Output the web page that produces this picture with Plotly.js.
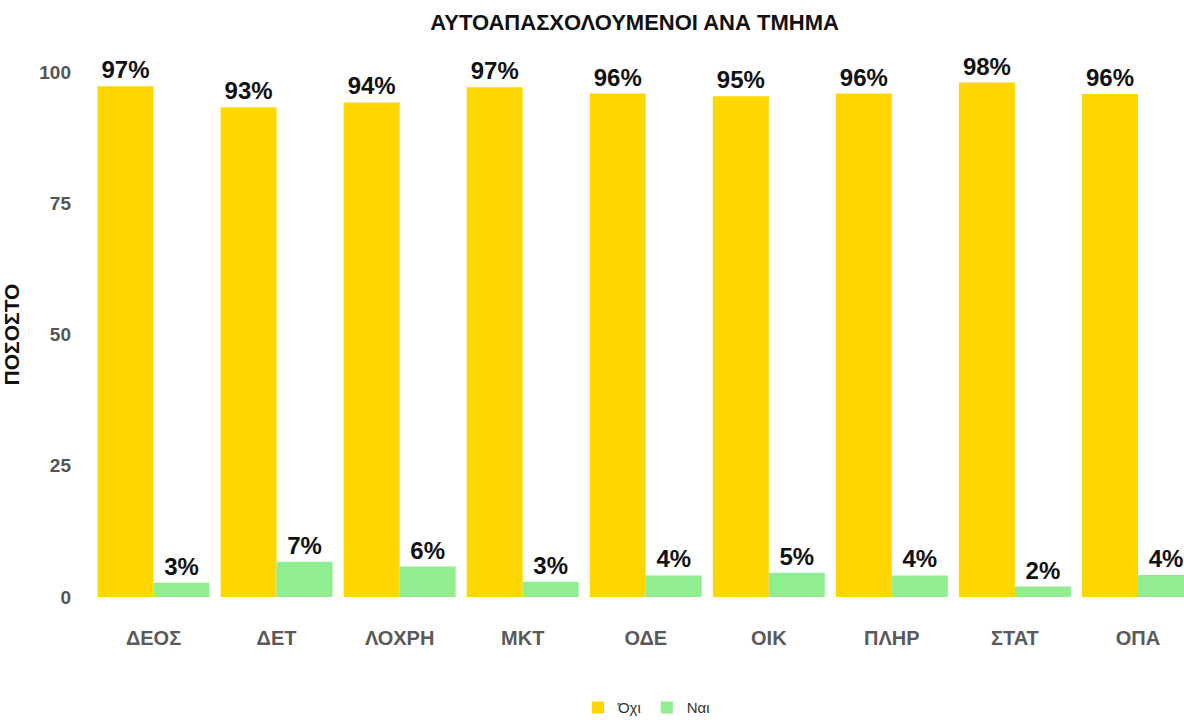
<!DOCTYPE html>
<html>
<head>
<meta charset="utf-8">
<script src="https://cdn.plot.ly/plotly-3.0.1.min.js"></script>
<style>html,body{margin:0;padding:0;background:#fff;}#chart{width:1184px;height:720px;}</style>
</head>
<body>
<div id="chart"></div>
<script>
const categories = ["ΔΕΟΣ", "ΔΕΤ", "ΛΟΧΡΗ", "ΜΚΤ", "ΟΔΕ", "ΟΙΚ", "ΠΛΗΡ", "ΣΤΑΤ", "ΟΠΑ"];
const ochi = [97.3, 93.3, 94.2, 97.1, 95.9, 95.4, 95.9, 98.0, 95.8];
const nai = [2.7, 6.7, 5.8, 2.9, 4.1, 4.6, 4.1, 2.0, 4.2];
const seriesNames = ["Όχι", "Ναι"];
const yTicks = [0, 25, 50, 75, 100];

const labelFont = {family: "Liberation Sans, Arial, sans-serif", size: 24, color: "#111", weight: 700};

const traces = [
  {type: "bar", name: seriesNames[0], x: categories, y: ochi, marker: {color: "#FFD700"},
   text: ochi.map(v => Math.round(v) + "%"), textposition: "outside", textfont: labelFont,
   cliponaxis: false, constraintext: "none", hoverinfo: "x+y"},
  {type: "bar", name: seriesNames[1], x: categories, y: nai, marker: {color: "#90EE90"},
   text: nai.map(v => Math.round(v) + "%"), textposition: "outside", textfont: labelFont,
   cliponaxis: false, constraintext: "none", hoverinfo: "x+y"}
];

const layout = {
  width: 1184, height: 720,
  paper_bgcolor: "#fff", plot_bgcolor: "#fff",
  font: {family: "Liberation Sans, Arial, sans-serif", color: "#333"},
  margin: {l: 92, r: 0, t: 72, b: 123},
  barmode: "group", bargap: 0.09, bargroupgap: 0,
  title: {text: "ΑΥΤΟΑΠΑΣΧΟΛΟΥΜΕΝΟΙ ΑΝΑ ΤΜΗΜΑ", font: {size: 22, color: "#111", weight: 700},
          x: 0.536, xref: "container", xanchor: "center", y: 0.969, yref: "container", yanchor: "middle"},
  xaxis: {range: [-0.5, 8.374], showgrid: false, zeroline: false, showline: false,
          ticks: "outside", ticklen: 0, ticklabelstandoff: 23,
          tickfont: {size: 20, color: "#5a5a5a", weight: 600}, fixedrange: true},
  yaxis: {range: [0, 100], tickvals: yTicks, showgrid: false, zeroline: false, showline: false,
          ticklabelstandoff: 20, tickfont: {size: 19, color: "#555", weight: 700},
          title: {text: "ΠΟΣΟΣΤΟ", font: {size: 21, color: "#111", weight: 700}, standoff: 14},
          automargin: false},
  legend: {orientation: "h", xref: "container", yref: "container", x: 0.546, xanchor: "center",
           y: 0.017, yanchor: "middle", font: {size: 15, color: "#333"}},
  showlegend: true
};

Plotly.newPlot("chart", traces, layout, {displayModeBar: false, staticPlot: true});
</script>
</body>
</html>
